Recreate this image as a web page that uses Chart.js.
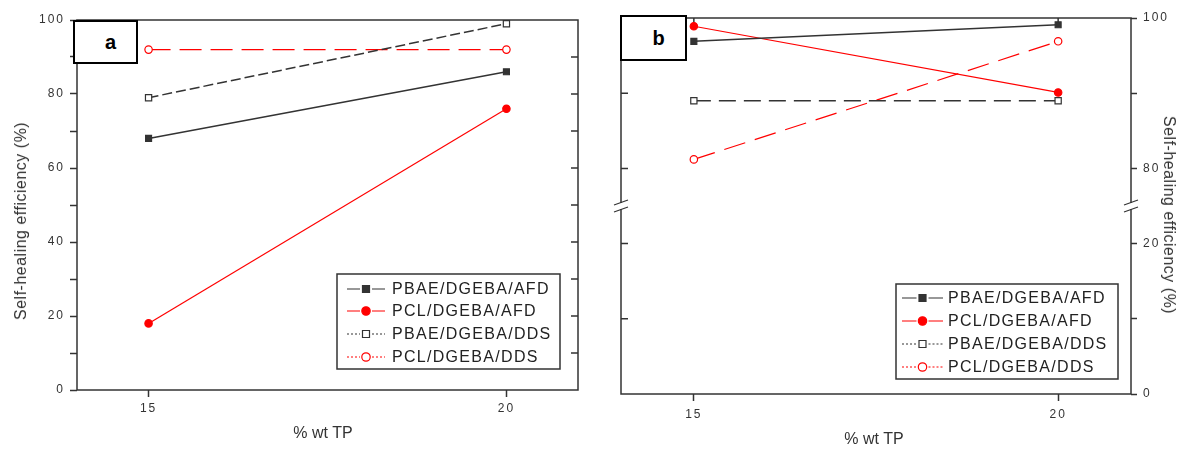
<!DOCTYPE html>
<html>
<head>
<meta charset="utf-8">
<script src="https://cdn.jsdelivr.net/npm/chart.js@4"></script>
<style>
  body { margin: 0; background: #fff; width: 1182px; height: 449px; overflow: hidden; position: relative; font-family: "Liberation Sans", Arial, sans-serif; }
  canvas { position: absolute; top: 0; }
  #chartA { left: 0; }
  #chartB { left: 590px; }
  .title { position: absolute; white-space: nowrap; font-size: 16px; color: #333; transform: translate(-50%, -50%); }
  .rot-l { transform: translate(-50%, -50%) rotate(-90deg); letter-spacing: 0.5px; }
  .rot-r { transform: translate(-50%, -50%) rotate(90deg); letter-spacing: 0.5px; }
  .tag { position: absolute; box-sizing: border-box; border: 2px solid #000; background: #fff; font-weight: bold; font-size: 20px; display: flex; align-items: center; justify-content: center; padding-left: 10px; }
</style>
</head>
<body>
<canvas id="chartA" width="595" height="449"></canvas>
<canvas id="chartB" width="592" height="449"></canvas>

<div class="title rot-l" style="left:21px; top:221px;">Self-healing efficiency (%)</div>
<div class="title" style="left:323px; top:433px;">% wt TP</div>
<div class="title" style="left:874px; top:439px;">% wt TP</div>
<div class="title rot-r" style="left:1169px; top:215px;">Self-healing efficiency (%)</div>

<div class="tag" style="left:73px; top:20px; width:65px; height:44px;">a</div>
<div class="tag" style="left:620px; top:15px; width:67px; height:46px;">b</div>

<script>
const xValues = [15, 20];
const xTickValues = [15, 20];
const seriesNames = ["PBAE/DGEBA/AFD", "PCL/DGEBA/AFD", "PBAE/DGEBA/DDS", "PCL/DGEBA/DDS"];

// panel a
const aPbaeAfd = [68, 86];
const aPclAfd = [18, 76];
const aPbaeDds = [79, 99];
const aPclDds = [92, 92];
const aYTicks = [0, 10, 20, 30, 40, 50, 60, 70, 80, 90, 100];
const aYLabels = [0, 20, 40, 60, 80, 100];

// panel b (broken axis 0-25 | 75-100)
const bPbaeAfd = [96.9, 99.1];
const bPclAfd = [98.9, 90.1];
const bPbaeDds = [89, 89];
const bPclDds = [81.2, 96.9];
const bYTicks = [0, 10, 20, 80, 90, 100];
const bYLabels = [0, 20, 80, 100];
const bBreak = [25, 75];

const BLACK = "#333";
const RED = "#ff0000";
const FONT = "'Liberation Sans', Arial, sans-serif";

// squeeze the gap of the broken axis out
function toAxisB(v) { return v <= bBreak[0] ? v : v - (bBreak[1] - bBreak[0]); }
function fromAxisB(t) { return t <= bBreak[0] ? t : t + (bBreak[1] - bBreak[0]); }

function makeDatasets(values, dashes, map) {
  return seriesNames.map((name, i) => {
    const red = name.startsWith("PCL");
    const open = name.endsWith("DDS");
    const color = red ? RED : BLACK;
    return {
      label: name,
      data: xValues.map((x, j) => ({ x: x, y: map(values[i][j]) })),
      borderColor: color,
      borderWidth: red ? 1.2 : 1.5,
      borderDash: dashes[i],
      pointStyle: red ? "circle" : "rect",
      pointRadius: red ? 3.7 : (open ? 4.4 : 4.2),
      pointBackgroundColor: open ? "#fff" : color,
      pointBorderColor: color,
      pointBorderWidth: 1.2,
      tension: 0,
      fill: false,
      clip: false,
    };
  });
}

function tickGrid() {
  return { drawOnChartArea: false, drawTicks: true, tickLength: 7, tickColor: BLACK, tickWidth: 1.5 };
}

const framePlugin = {
  id: "frame",
  beforeDraw(chart) {
    chart.ctx.letterSpacing = "2px";
  },
  beforeDatasetsDraw(chart, args, opts) {
    const ctx = chart.ctx;
    const a = chart.chartArea;
    const xs = chart.scales.x, ys = chart.scales.y;
    ctx.save();
    ctx.strokeStyle = BLACK;
    ctx.lineWidth = 1.5;
    ctx.strokeRect(a.left, a.top, a.right - a.left, a.bottom - a.top);
    ctx.beginPath();
    (opts.innerRight || []).forEach(v => {
      const y = ys.getPixelForValue(v);
      ctx.moveTo(a.right, y); ctx.lineTo(a.right - 7, y);
    });
    (opts.innerLeft || []).forEach(v => {
      const y = ys.getPixelForValue(v);
      ctx.moveTo(a.left, y); ctx.lineTo(a.left + 7, y);
    });
    (opts.innerTop || []).forEach(v => {
      const x = xs.getPixelForValue(v);
      ctx.moveTo(x, a.top); ctx.lineTo(x, a.top + 7);
    });
    ctx.stroke();
    if (opts.breakAt != null) {
      const y = ys.getPixelForValue(opts.breakAt);
      [a.left, a.right].forEach(x => {
        ctx.fillStyle = "#fff";
        ctx.fillRect(x - 2, y - 3, 4, 6);
        ctx.beginPath();
        [-3.5, 3.5].forEach(off => {
          ctx.moveTo(x - 7, y + off + 2.5);
          ctx.lineTo(x + 7, y + off - 2.5);
        });
        ctx.lineWidth = 1.2;
        ctx.stroke();
      });
    }
    ctx.restore();
  },
  afterDraw(chart, args, opts) {
    const lg = opts.legend;
    if (!lg) return;
    const ctx = chart.ctx;
    ctx.save();
    ctx.fillStyle = "#fff";
    ctx.fillRect(lg.x, lg.y, lg.w, lg.h);
    ctx.strokeStyle = BLACK;
    ctx.lineWidth = 1.5;
    ctx.strokeRect(lg.x, lg.y, lg.w, lg.h);
    chart.data.datasets.forEach((ds, i) => {
      const y = lg.rows[i];
      const open = ds.label.endsWith("DDS");
      const mx = (lg.x0 + lg.x1) / 2;
      ctx.strokeStyle = ds.borderColor;
      ctx.lineWidth = 1.2;
      ctx.setLineDash(open ? [2, 2] : []);
      ctx.beginPath();
      ctx.moveTo(lg.x0, y); ctx.lineTo(mx - 6, y);
      ctx.moveTo(mx + 6, y); ctx.lineTo(lg.x1, y);
      ctx.stroke();
      ctx.setLineDash([]);
      ctx.fillStyle = open ? "#fff" : ds.borderColor;
      ctx.beginPath();
      if (ds.pointStyle === "rect") ctx.rect(mx - 3.5, y - 3.5, 7, 7);
      else ctx.arc(mx, y, 4.2, 0, Math.PI * 2);
      ctx.fill();
      ctx.stroke();
      ctx.fillStyle = "#222";
      ctx.font = "16px " + FONT;
      ctx.letterSpacing = "1.3px";
      ctx.textBaseline = "middle";
      ctx.textAlign = "left";
      ctx.fillText(ds.label, lg.textX, y + 1);
    });
    ctx.restore();
  },
};

const tickFont = { family: FONT, size: 12 };

new Chart(document.getElementById("chartA"), {
  type: "line",
  data: {
    datasets: makeDatasets([aPbaeAfd, aPclAfd, aPbaeDds, aPclDds], [[], [], [10, 4], [22, 9]], v => v),
  },
  options: {
    responsive: false,
    animation: false,
    layout: { padding: { top: 20, right: 17, left: 0, bottom: 0 } },
    plugins: {
      legend: { display: false },
      tooltip: { enabled: false },
      frame: {
        innerRight: aYTicks.slice(1, -1),
        legend: { x: 337, y: 274, w: 223, h: 95, rows: [289, 311, 334, 357], x0: 347, x1: 385, textX: 392 },
      },
    },
    scales: {
      x: {
        type: "linear", min: 14, max: 21,
        afterBuildTicks: s => { s.ticks = xTickValues.map(v => ({ value: v })); },
        afterFit: s => { s.height = 59; },
        grid: tickGrid(),
        border: { display: false },
        ticks: { padding: 4, font: tickFont, color: "#333", maxRotation: 0, autoSkip: false, callback: v => String(v) },
      },
      y: {
        min: 0, max: 100,
        afterBuildTicks: s => { s.ticks = aYTicks.map(v => ({ value: v })); },
        afterFit: s => { s.width = 77; },
        grid: tickGrid(),
        border: { display: false },
        ticks: { padding: 5, font: tickFont, color: "#333", autoSkip: false, callback: v => aYLabels.includes(v) ? String(v) : "" },
      },
    },
  },
  plugins: [framePlugin],
});

new Chart(document.getElementById("chartB"), {
  type: "line",
  data: {
    datasets: makeDatasets([bPbaeAfd, bPclAfd, bPbaeDds, bPclDds], [[], [], [17, 8], [22, 10]], toAxisB),
  },
  options: {
    responsive: false,
    animation: false,
    layout: { padding: { top: 18, right: 0, left: 31, bottom: 0 } },
    plugins: {
      legend: { display: false },
      tooltip: { enabled: false },
      frame: {
        innerLeft: bYTicks.map(toAxisB).slice(1, -1),
        innerTop: xTickValues,
        breakAt: bBreak[0],
        legend: { x: 306, y: 284, w: 222, h: 95, rows: [298, 321, 344, 367], x0: 312, x1: 353, textX: 358 },
      },
    },
    scales: {
      x: {
        type: "linear", min: 14, max: 21,
        afterBuildTicks: s => { s.ticks = xTickValues.map(v => ({ value: v })); },
        afterFit: s => { s.height = 55; },
        grid: tickGrid(),
        border: { display: false },
        ticks: { padding: 6, font: tickFont, color: "#333", maxRotation: 0, autoSkip: false, callback: v => String(v) },
      },
      y: {
        position: "right",
        min: toAxisB(0), max: toAxisB(100),
        afterBuildTicks: s => { s.ticks = bYTicks.map(v => ({ value: toAxisB(v) })); },
        afterFit: s => { s.width = 51; },
        grid: Object.assign(tickGrid(), { tickLength: 6 }),
        border: { display: false },
        ticks: {
          padding: 6, font: tickFont, color: "#333", autoSkip: false,
          callback: v => bYLabels.includes(fromAxisB(v)) ? String(fromAxisB(v)) : "",
        },
      },
    },
  },
  plugins: [framePlugin],
});
</script>
</body>
</html>
